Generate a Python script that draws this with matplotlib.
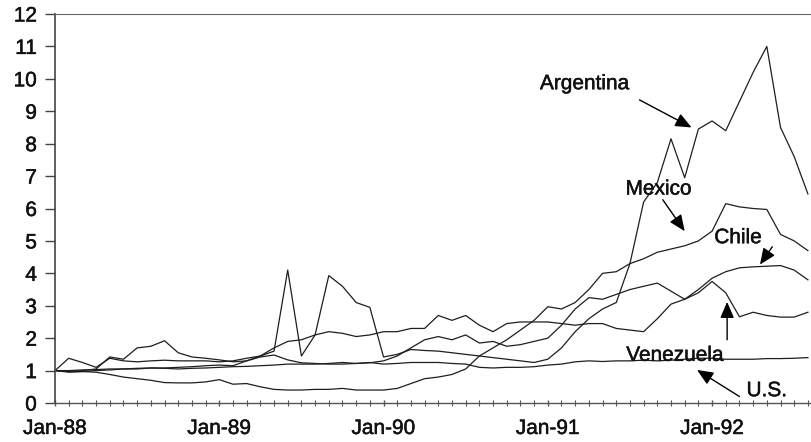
import numpy as np
import matplotlib.pyplot as plt
import matplotlib.patheffects as pe

# monthly index values, Jan-88 = 1
argentina = [1.0, 1.38, 1.25, 1.1, 1.38, 1.3, 1.27, 1.3, 1.32, 1.3, 1.3, 1.3,
             1.27, 1.3, 1.38, 1.45, 1.6, 4.1, 1.45, 2.1, 3.93, 3.6, 3.1, 2.95,
             1.42, 1.5, 1.65, 1.62, 1.6, 1.55, 1.5, 1.45, 1.4, 1.35, 1.3, 1.25,
             1.35, 1.7, 2.2, 2.6, 2.9, 3.1, 4.3, 6.2, 6.8, 8.15, 6.95, 8.45,
             8.7, 8.4, 9.3, 10.2, 11.0, 8.5, 7.6, 6.45]
mexico = [1.0, 0.97, 0.97, 0.95, 0.88, 0.8, 0.75, 0.7, 0.63, 0.62, 0.62, 0.65,
          0.72, 0.58, 0.6, 0.5, 0.42, 0.4, 0.4, 0.42, 0.42, 0.45, 0.4, 0.4,
          0.4, 0.45, 0.6, 0.75, 0.8, 0.88, 1.05, 1.45, 1.7, 1.95, 2.25, 2.55,
          2.97, 2.9, 3.1, 3.5, 4.0, 4.05, 4.3, 4.45, 4.65, 4.75, 4.85, 5.0,
          5.3, 6.15, 6.05, 6.0, 5.97, 5.2, 5.0, 4.7]
chile = [1.0, 0.95, 0.97, 1.0, 1.02, 1.05, 1.05, 1.08, 1.08, 1.1, 1.12, 1.15,
         1.17, 1.15, 1.3, 1.42, 1.48, 1.33, 1.24, 1.22, 1.2, 1.2, 1.22, 1.24,
         1.3, 1.45, 1.7, 1.95, 2.05, 1.95, 2.1, 1.85, 1.9, 1.75, 1.8, 1.9,
         2.0, 2.4, 2.9, 3.25, 3.2, 3.35, 3.5, 3.6, 3.7, 3.45, 3.2, 3.5,
         3.85, 4.05, 4.17, 4.2, 4.22, 4.24, 4.1, 3.8]
venezuela = [1.0, 0.98, 1.0, 1.05, 1.42, 1.35, 1.7, 1.75, 1.92, 1.55, 1.42, 1.38,
             1.33, 1.27, 1.3, 1.45, 1.7, 1.9, 1.95, 2.1, 2.2, 2.15, 2.05, 2.1,
             2.2, 2.2, 2.3, 2.3, 2.7, 2.55, 2.7, 2.4, 2.2, 2.45, 2.5, 2.5,
             2.5, 2.45, 2.4, 2.45, 2.45, 2.3, 2.25, 2.2, 2.6, 3.05, 3.2, 3.4,
             3.75, 3.4, 2.66, 2.8, 2.7, 2.65, 2.65, 2.8]
us = [1.0, 1.0, 1.02, 1.03, 1.05, 1.05, 1.07, 1.08, 1.07, 1.05, 1.07, 1.08,
      1.1, 1.12, 1.13, 1.15, 1.17, 1.2, 1.2, 1.2, 1.22, 1.25, 1.22, 1.25,
      1.2, 1.22, 1.25, 1.25, 1.25, 1.22, 1.2, 1.1, 1.08, 1.1, 1.1, 1.12,
      1.17, 1.2, 1.27, 1.3, 1.28, 1.3, 1.3, 1.32, 1.3, 1.32, 1.35, 1.38,
      1.38, 1.35, 1.35, 1.35, 1.37, 1.37, 1.38, 1.4]

year_labels = ['Jan-88', 'Jan-89', 'Jan-90', 'Jan-91', 'Jan-92']

plt.rcParams['font.family'] = ['Liberation Sans', 'DejaVu Sans']
fig = plt.figure(figsize=(8.12, 4.42), dpi=100)
ax = fig.add_axes([55 / 812, 39 / 442, 1 - 55 / 812, 389 / 442])

months = np.arange(len(argentina))
for series in [argentina, mexico, chile, venezuela, us]:
    ax.plot(months, series, color='#1e1e1e', lw=0.9)

ax.set_xlim(0, 55.3)
ax.set_ylim(0, 12)
ax.set_yticks(range(13))
ax.set_xticks(range(0, 60, 12))
ax.set_xticklabels(year_labels)
ax.set_xticks(range(0, 56), minor=True)

ax.spines['right'].set_visible(False)
ax.spines['left'].set_color('#444444')
ax.spines['left'].set_linewidth(1.2)
ax.spines['top'].set_color('#666666')
ax.spines['bottom'].set_color('#555555')
ax.spines['bottom'].set_linewidth(1.0)

ax.tick_params(axis='y', length=7, width=1, color='#444444', labelsize=15,
               pad=6, labelcolor='#111111')
ax.tick_params(axis='x', which='major', length=5, direction='inout',
               width=1, color='#555555', labelsize=15, pad=9,
               labelcolor='#111111')
ax.tick_params(axis='x', which='minor', length=4, direction='inout',
               width=0.8, color='#555555')

# slightly heavier lettering
thick = [pe.withStroke(linewidth=0.35, foreground='#111111')]
for lab in ax.get_xticklabels() + ax.get_yticklabels():
    lab.set_path_effects(thick)

arrow = dict(arrowstyle='-|>,head_length=0.7,head_width=0.3', color='black',
             lw=1.0, mutation_scale=14, shrinkA=0, shrinkB=0)
labels = [
    ('Argentina', 38.7, 9.85, 42.7, 9.35, 46.5, 8.5),
    ('Mexico', 44.1, 6.6, 44.4, 6.27, 46.0, 5.3),
    ('Chile', 49.9, 5.1, 52.4, 4.82, 51.5, 4.27),
    ('Venezuela', 45.3, 1.47, 49.1, 1.95, 49.1, 3.12),
    ('U.S.', 52.0, 0.38, 50.0, 0.2, 46.9, 1.02),
]
for name, tx, ty, ax0, ay0, ax1, ay1 in labels:
    ax.text(tx, ty, name, ha='center', va='center', fontsize=15,
            color='#111111', path_effects=thick)
    ax.annotate('', xy=(ax1, ay1), xytext=(ax0, ay0), arrowprops=arrow)

fig.savefig('out.png', dpi=100)
